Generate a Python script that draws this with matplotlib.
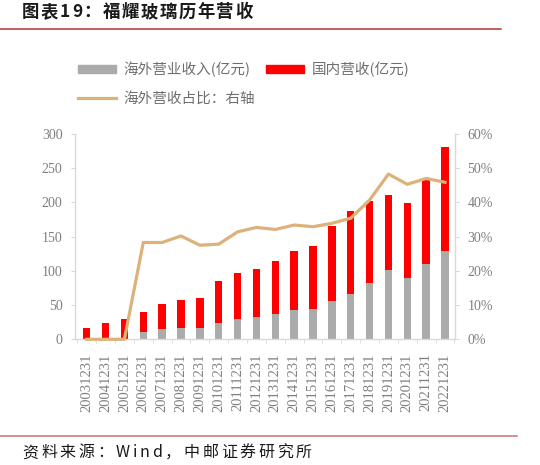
import matplotlib
matplotlib.use("Agg")
import matplotlib.pyplot as plt
import numpy as np
from matplotlib.patches import Patch
from matplotlib.lines import Line2D
from matplotlib.ticker import FuncFormatter, FixedLocator

plt.rcParams['font.family'] = ['Noto Sans CJK SC', 'DejaVu Sans']

years = ["20031231", "20041231", "20051231", "20061231", "20071231", "20081231",
         "20091231", "20101231", "20111231", "20121231", "20131231", "20141231",
         "20151231", "20161231", "20171231", "20181231", "20191231", "20201231",
         "20211231", "20221231"]
total_rev = [17, 23.4, 29, 39.5, 51.6, 57, 60.4, 84.8, 97, 102.3, 114.9, 129.5,
             135.9, 166, 187, 202, 211, 199, 233.5, 281]
overseas_rev = [0, 0, 0, 10.7, 14.6, 16.5, 16.5, 23.4, 30, 32.6, 37, 42.8,
                44.3, 56, 66.2, 82.7, 101.7, 90, 110.5, 128.6]
overseas_ratio = [0, 0, 0, 28.3, 28.3, 30.2, 27.5, 27.8, 31.4, 32.7, 32.1, 33.4,
                  32.9, 33.9, 35.4, 40.7, 48.3, 45.3, 47.0, 45.9]
domestic_rev = [t - o for t, o in zip(total_rev, overseas_rev)]

GREY = '#ABABAB'
RED = '#FF0000'
TAN = '#DDB27A'
TICK = '#7F7F7F'
SPINE = '#D9D9D9'
serif = 'Liberation Serif'
W_PX, H_PX = 540, 465

fig = plt.figure(figsize=(5.4, 4.65), dpi=100)
ax = fig.add_axes([0.1389, 0.2703, 0.7037, 0.4415])
x = np.arange(len(years))
w = 0.4
ax.bar(x, overseas_rev, width=w, color=GREY, zorder=2)
ax.bar(x, domestic_rev, width=w, bottom=overseas_rev, color=RED, zorder=2)
ax.set_xlim(-0.62, len(years) - 1 + 0.53)
ax.set_ylim(0, 300)
ax.set_yticks(np.arange(0, 301, 50))

ax2 = ax.twinx()
ax2.plot(x, overseas_ratio, color=TAN, lw=2.3, zorder=3, clip_on=False,
         solid_joinstyle='round')
ax2.set_ylim(0, 60)
ax2.set_yticks(np.arange(0, 61, 10))
ax2.yaxis.set_major_formatter(FuncFormatter(lambda v, p: f"{int(v)}%"))

for a in (ax, ax2):
    for s in a.spines.values():
        s.set_color(SPINE)
        s.set_linewidth(1.0)
    a.spines['top'].set_visible(False)
ax.set_zorder(1)
ax2.set_zorder(2)
ax.spines['right'].set_visible(False)
ax2.spines['left'].set_visible(False)
ax2.spines['bottom'].set_visible(False)

ax.set_xticks(x)
ax.set_xticklabels(years, rotation=90, fontfamily=serif, fontsize=10.5, color=TICK)
ax.tick_params(axis='x', which='major', length=0, pad=10)
ax.xaxis.set_minor_locator(FixedLocator(np.arange(-0.5, len(years), 1.0)))
ax.tick_params(axis='x', which='minor', length=3, color=SPINE, direction='out')
ax.tick_params(axis='y', length=3, color=SPINE, pad=6, direction='out')
ax2.tick_params(axis='y', length=3, color=SPINE, pad=6, direction='out')
for lab in ax.get_yticklabels() + ax2.get_yticklabels():
    lab.set_fontfamily(serif)
    lab.set_fontsize(10)
    lab.set_color(TICK)

handles = [Patch(color=GREY), Line2D([], [], color=TAN, lw=2.3), Patch(color=RED)]
labels = ["海外营业收入(亿元)", "海外营收占比：右轴", "国内营收(亿元)"]
fig.legend(handles, labels, ncol=2, loc='upper left', bbox_to_anchor=(0.144, 0.868),
           frameon=False, fontsize=10.5, handlelength=2.6, handleheight=0.5,
           handletextpad=0.5, columnspacing=0.8, labelspacing=1.0,
           borderpad=0, borderaxespad=0, labelcolor='#6E6E6E')

renderer = fig.canvas.get_renderer()


def spaced_text(x_px, y_frac, s, gap_px, **kw):
    cur = x_px
    for ch in s:
        t = fig.text(cur / W_PX, y_frac, ch, va='center', ha='left', **kw)
        bb = t.get_window_extent(renderer=renderer)
        cur += bb.width + gap_px


spaced_text(22, 0.974, "图表19：福耀玻璃历年营收", 1.6, fontsize=12.5,
            fontweight='bold', color='#1A1A1A')
fig.add_artist(Line2D([0, 0.928], [0.937, 0.937], color='#B4332E', lw=1.1,
                      transform=fig.transFigure))
fig.add_artist(Line2D([0, 0.957], [0.0624, 0.0624], color='#C87474', lw=1.1,
                      transform=fig.transFigure))
spaced_text(22.5, 0.026, "资料来源：Wind，中邮证券研究所", 2.7, fontsize=11.5,
            color='#1A1A1A')

fig.savefig("out.png", dpi=100)
